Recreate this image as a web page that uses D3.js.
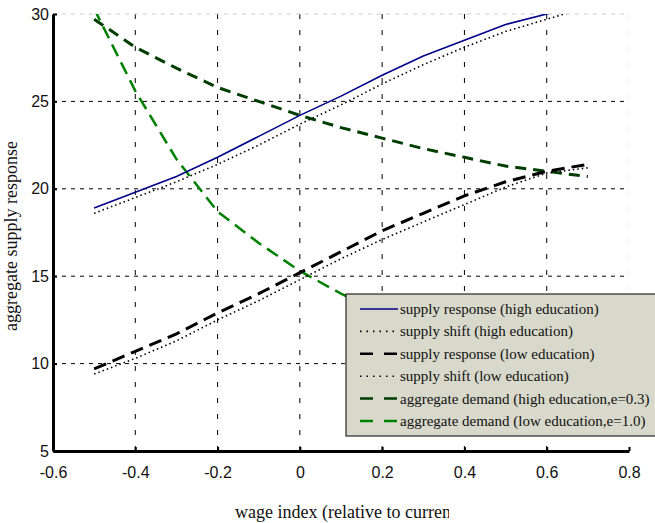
<!DOCTYPE html>
<html>
<head>
<meta charset="utf-8">
<script src="https://cdn.jsdelivr.net/npm/d3@7"></script>
<style>
body { margin: 0; background: white; }
svg { display: block; }
</style>
</head>
<body>
<svg id="chart"></svg>
<script>
var width = 655, height = 523;

// wage index sample points
var wage = [-0.5, -0.4, -0.3, -0.2, -0.1, 0, 0.1, 0.2, 0.3, 0.4, 0.5, 0.6, 0.7];

var supplyHigh      = [18.9, 19.8, 20.7, 21.8, 23.0, 24.2, 25.3, 26.5, 27.6, 28.5, 29.4, 30.0, 30.8];
var shiftHigh       = [18.6, 19.5, 20.4, 21.4, 22.5, 23.7, 24.8, 26.0, 27.1, 28.1, 29.0, 29.7, 30.4];
var supplyLow       = [9.7, 10.7, 11.7, 12.9, 14.0, 15.2, 16.4, 17.6, 18.6, 19.6, 20.4, 21.0, 21.4];
var shiftLow        = [9.4, 10.3, 11.3, 12.5, 13.6, 14.8, 16.0, 17.1, 18.1, 19.1, 20.1, 20.9, 21.2];
var demandHigh      = [29.7, 28.1, 26.9, 25.8, 25.0, 24.2, 23.5, 22.9, 22.3, 21.8, 21.3, 21.0, 20.7];
var demandLow       = [30.3, 25.6, 21.7, 18.7, 16.9, 15.3, 14.0, 12.9, 12.0, 11.2, 10.5, 9.9, 9.4];

var seriesNames = [
  "supply response (high education)",
  "supply shift (high education)",
  "supply response (low education)",
  "supply shift (low education)",
  "aggregate demand (high education,e=0.3)",
  "aggregate demand (low education,e=1.0)"
];
var seriesValues = [supplyHigh, shiftHigh, supplyLow, shiftLow, demandHigh, demandLow];

var xTicks = [-0.6, -0.4, -0.2, 0, 0.2, 0.4, 0.6, 0.8];
var xTickLabels = ["-0.6", "-0.4", "-0.2", "0", "0.2", "0.4", "0.6", "0.8"];
var yTicks = [5, 10, 15, 20, 25, 30];
var yTickLabels = ["5", "10", "15", "20", "25", "30"];

var styles = [
  {color: "#00008b", w: 1.6, dash: null},
  {color: "#000", w: 1.6, dash: "1.5,3"},
  {color: "#000", w: 3, dash: "13,7"},
  {color: "#000", w: 1.6, dash: "1.5,3"},
  {color: "#003d00", w: 3, dash: "11,7"},
  {color: "#008000", w: 2.5, dash: "13,7"}
];

var pLeft = 53, pRight = 629, pTop = 14, pBottom = 451;
var x = d3.scaleLinear().domain([-0.6, 0.8]).range([pLeft, pRight]);
var y = d3.scaleLinear().domain([5, 30]).range([pBottom, pTop]);

var svg = d3.select("#chart")
  .attr("width", width)
  .attr("height", height);

svg.append("clipPath").attr("id", "plotclip")
  .append("rect")
  .attr("x", pLeft).attr("y", pTop)
  .attr("width", pRight - pLeft).attr("height", pBottom - pTop);

// grid
var grid = svg.append("g");
grid.selectAll(".vg")
  .data(xTicks.slice(1))
  .enter().append("line")
  .attr("x1", function(d) { return x(d); })
  .attr("x2", function(d) { return x(d); })
  .attr("y1", pTop).attr("y2", pBottom)
  .style("stroke", function(d) { return d == 0.8 ? "#eee" : "#000"; })
  .style("stroke-width", 1)
  .style("stroke-dasharray", "5,11");
grid.selectAll(".hg")
  .data(yTicks.slice(1))
  .enter().append("line")
  .attr("x1", pLeft).attr("x2", pRight)
  .attr("y1", function(d) { return y(d); })
  .attr("y2", function(d) { return y(d); })
  .style("stroke", function(d) { return d == 30 ? "#ccc" : "#000"; })
  .style("stroke-width", 1)
  .style("stroke-dasharray", "4,5");

// lines
var line = d3.line()
  .x(function(d, i) { return x(wage[i]); })
  .y(function(d) { return y(d); });

var lines = svg.append("g").attr("clip-path", "url(#plotclip)");
// demand first, then supply so blue/black sit on top
[5, 4, 3, 2, 1, 0].forEach(function(k) {
  lines.append("path")
    .datum(seriesValues[k])
    .attr("d", line)
    .style("fill", "none")
    .style("stroke", styles[k].color)
    .style("stroke-width", styles[k].w)
    .style("stroke-dasharray", styles[k].dash);
});

// axes
var xAxis = d3.axisBottom(x)
  .tickValues(xTicks)
  .tickFormat(function(d, i) { return xTickLabels[i]; })
  .tickSizeInner(-4).tickSizeOuter(0).tickPadding(16);
var yAxis = d3.axisLeft(y)
  .tickValues(yTicks)
  .tickFormat(function(d, i) { return yTickLabels[i]; })
  .tickSizeInner(-4).tickSizeOuter(0).tickPadding(4);

var gx = svg.append("g").attr("transform", "translate(0," + pBottom + ")").call(xAxis);
var gy = svg.append("g").attr("transform", "translate(" + pLeft + ",0)").call(yAxis);
[gx, gy].forEach(function(g) {
  g.select(".domain").style("stroke", "#000").style("stroke-width", 3);
  g.selectAll(".tick line").style("stroke", "#000").style("stroke-width", 2);
  g.selectAll(".tick text")
    .style("font-family", "'Liberation Sans', Arial, sans-serif")
    .style("font-size", "16px")
    .style("fill", "#111");
});

// axis titles
svg.append("clipPath").attr("id", "titleclip")
  .append("rect").attr("x", 0).attr("y", 490).attr("width", 449).attr("height", 40);
svg.append("text")
  .attr("clip-path", "url(#titleclip)")
  .attr("x", 235).attr("y", 518)
  .style("font-family", "'Liberation Serif', 'Times New Roman', serif")
  .style("font-size", "18px")
  .style("fill", "#111")
  .text("wage index (relative to current wage)");

svg.append("text")
  .attr("transform", "translate(17,236) rotate(-90)")
  .attr("text-anchor", "middle")
  .style("font-family", "'Liberation Serif', 'Times New Roman', serif")
  .style("font-size", "18px")
  .style("fill", "#111")
  .text("aggregate supply response");

// legend
var legend = svg.append("g");
legend.append("rect")
  .attr("x", 346).attr("y", 294)
  .attr("width", 320).attr("height", 142)
  .style("fill", "#d8d8cb")
  .style("stroke", "#000")
  .style("stroke-width", 1);

var rowY = d3.scaleLinear().domain([0, 5]).range([309, 421]);
var items = legend.selectAll(".item")
  .data(seriesNames)
  .enter().append("g")
  .attr("transform", function(d, i) { return "translate(0," + rowY(i) + ")"; });
items.append("line")
  .attr("x1", 360).attr("x2", 398)
  .attr("y1", 0).attr("y2", 0)
  .style("stroke", function(d, i) { return styles[i].color; })
  .style("stroke-width", function(d, i) { return Math.min(styles[i].w, 2.5); })
  .style("stroke-dasharray", function(d, i) { return styles[i].dash ? (i == 1 || i == 3 ? "1.5,5" : "13,11") : null; });
items.append("text")
  .attr("x", 400).attr("y", 5)
  .style("font-family", "'Liberation Serif', 'Times New Roman', serif")
  .style("font-size", "15px")
  .style("fill", "#111")
  .text(function(d) { return d; });
</script>
</body>
</html>
